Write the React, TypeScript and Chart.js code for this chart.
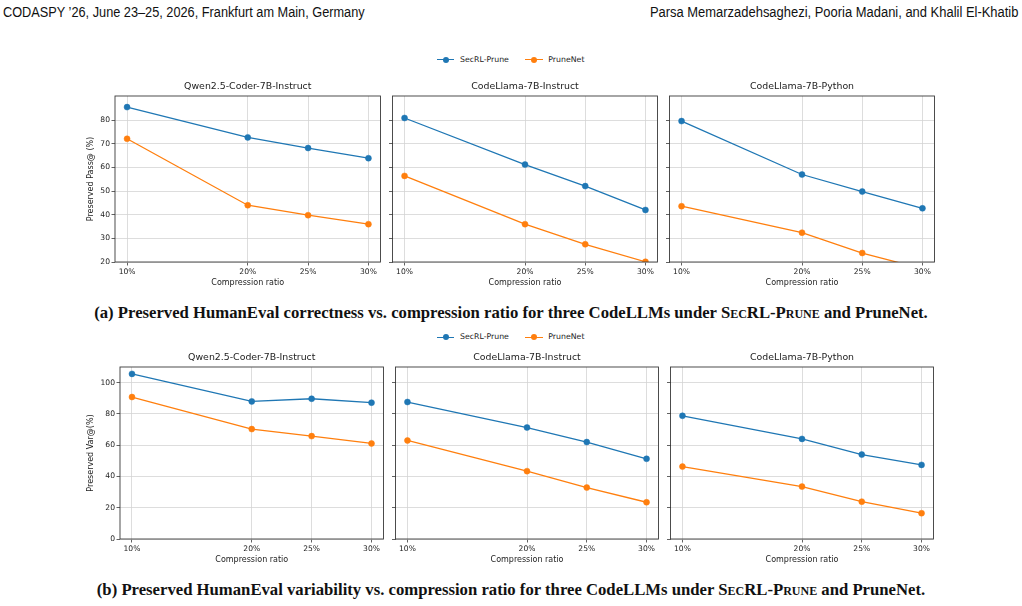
import React, { useEffect, useRef } from 'react';
import { Chart, registerables } from 'chart.js';

Chart.register(...registerables);

// ---------------- data ----------------
const X_VALUES = [10, 20, 25, 30];
const X_TICKS = [10, 20, 25, 30];
const PASS_Y_TICKS = [20, 30, 40, 50, 60, 70, 80];
const VAR_Y_TICKS = [0, 20, 40, 60, 80, 100];
const MODELS = ['Qwen2.5-Coder-7B-Instruct', 'CodeLlama-7B-Instruct', 'CodeLlama-7B-Python'];
const SERIES_NAMES = ['SecRL-Prune', 'PruneNet'];
const SERIES_COLORS = ['#1f77b4', '#ff7f0e'];

const PASS_QWEN_SECRL = [85.5, 72.7, 68.2, 63.9];
const PASS_QWEN_PRUNENET = [72.1, 44.0, 39.8, 36.0];
const PASS_CLI_SECRL = [80.9, 61.2, 52.1, 42.0];
const PASS_CLI_PRUNENET = [56.4, 36.0, 27.5, 20.1];
const PASS_CLP_SECRL = [79.6, 57.0, 49.8, 42.7];
const PASS_CLP_PRUNENET = [43.6, 32.4, 23.8, 17.1];

const VAR_QWEN_SECRL = [105.6, 88.0, 89.7, 87.2];
const VAR_QWEN_PRUNENET = [90.8, 70.3, 65.8, 61.1];
const VAR_CLI_SECRL = [87.6, 71.3, 62.0, 51.3];
const VAR_CLI_PRUNENET = [63.0, 43.4, 32.9, 23.5];
const VAR_CLP_SECRL = [78.8, 64.0, 54.0, 47.4];
const VAR_CLP_PRUNENET = [46.3, 33.5, 23.9, 16.5];

const HEADER_LEFT = 'CODASPY \u201926, June 23\u201325, 2026, Frankfurt am Main, Germany';
const HEADER_RIGHT = 'Parsa Memarzadehsaghezi, Pooria Madani, and Khalil El-Khatib';

// ---------------- styling ----------------
const FONT = "'DejaVu Sans', sans-serif";
const TEXT = '#222222';
const GRID = '#d4d4d4';
const SPINE = '#3a3a3a';
const TITLE_H = 17;
const X_H = 28;
const RIGHT_PAD = 4;

const framePlugin = {
  id: 'frame',
  afterDraw(chart: any) {
    const { ctx, chartArea } = chart;
    const { left, top, right, bottom } = chartArea;
    ctx.save();
    ctx.strokeStyle = SPINE;
    ctx.lineWidth = 0.9;
    ctx.strokeRect(left, top, right - left, bottom - top);
    ctx.restore();
  },
};

type PanelProps = {
  left: number;
  top: number;
  plotW: number;
  plotH: number;
  yAxisW: number;
  title: string;
  showYLabels: boolean;
  yTitle?: string;
  yMin: number;
  yMax: number;
  yTicks: number[];
  secrl: number[];
  prunenet: number[];
};

function Panel(p: PanelProps) {
  const ref = useRef<HTMLCanvasElement>(null);
  const width = p.yAxisW + p.plotW + RIGHT_PAD;
  const height = TITLE_H + p.plotH + X_H;

  useEffect(() => {
    const series = [p.secrl, p.prunenet];
    const chart = new Chart(ref.current as HTMLCanvasElement, {
      type: 'line',
      data: {
        datasets: series.map((vals, si) => ({
          label: SERIES_NAMES[si],
          data: X_VALUES.map((x, i) => ({ x, y: vals[i] })),
          borderColor: SERIES_COLORS[si],
          backgroundColor: SERIES_COLORS[si],
          pointBackgroundColor: SERIES_COLORS[si],
          pointBorderColor: SERIES_COLORS[si],
          pointRadius: 3,
          pointBorderWidth: 0.5,
          borderWidth: 1.3,
          tension: 0,
          clip: 0,
        })),
      },
      options: {
        animation: false,
        responsive: false,
        layout: { padding: { left: 0, right: RIGHT_PAD, top: 0, bottom: 0 } },
        plugins: {
          legend: { display: false },
          tooltip: { enabled: false },
          title: {
            display: true,
            text: p.title,
            fullSize: false,
            color: TEXT,
            font: { family: FONT, size: 9.4, weight: 'normal', lineHeight: 1.2 },
            padding: { top: TITLE_H - 11.28 - 3.5, bottom: 3.5 },
          },
        },
        scales: {
          x: {
            type: 'linear',
            min: 9,
            max: 31,
            bounds: 'data',
            afterBuildTicks: (s: any) => {
              s.ticks = X_TICKS.map((v) => ({ value: v }));
            },
            afterFit: (s: any) => {
              s.height = X_H;
            },
            ticks: {
              callback: (v: any) => `${v}%`,
              font: { family: FONT, size: 7.6, lineHeight: 1.2 },
              color: TEXT,
              padding: 2,
              maxRotation: 0,
              autoSkip: false,
            },
            grid: { color: GRID, lineWidth: 0.8, tickColor: SPINE, tickLength: 3.5, tickWidth: 0.8, drawTicks: true },
            border: { display: false },
            title: {
              display: true,
              text: 'Compression ratio',
              color: TEXT,
              font: { family: FONT, size: 8, lineHeight: 1.2 },
              padding: { top: 0, bottom: 2.2 },
            },
          },
          y: {
            type: 'linear',
            min: p.yMin,
            max: p.yMax,
            bounds: 'data',
            afterBuildTicks: (s: any) => {
              s.ticks = p.yTicks.map((v) => ({ value: v }));
            },
            afterFit: (s: any) => {
              s.width = p.yAxisW;
            },
            ticks: {
              callback: (v: any) => (p.showYLabels ? String(v) : ''),
              font: { family: FONT, size: 7.6, lineHeight: 1.2 },
              color: TEXT,
              padding: 1.5,
              autoSkip: false,
            },
            grid: { color: GRID, lineWidth: 0.8, tickColor: SPINE, tickLength: 3.5, tickWidth: 0.8, drawTicks: true },
            border: { display: false },
            title: {
              display: !!p.yTitle,
              text: p.yTitle || '',
              color: TEXT,
              font: { family: FONT, size: 8, lineHeight: 1.2 },
              padding: { top: 3.2, bottom: 0 },
            },
          },
        },
      } as any,
      plugins: [framePlugin],
    });
    return () => chart.destroy();
  }, []);

  return (
    <canvas
      ref={ref}
      width={width}
      height={height}
      style={{
        position: 'absolute',
        left: p.left - p.yAxisW,
        top: p.top - TITLE_H,
        width,
        height,
      }}
    />
  );
}

function Legend({ centerY }: { centerY: number }) {
  const items = [
    { x: 436.7, textX: 460 },
    { x: 525.3, textX: 548.3 },
  ];
  return (
    <>
      {items.map((it, i) => (
        <React.Fragment key={i}>
          <div
            style={{
              position: 'absolute',
              left: it.x,
              top: centerY - 0.7,
              width: 17.6,
              height: 1.4,
              background: SERIES_COLORS[i],
            }}
          />
          <div
            style={{
              position: 'absolute',
              left: it.x + 8.8 - 3,
              top: centerY - 3,
              width: 6,
              height: 6,
              borderRadius: 3,
              background: SERIES_COLORS[i],
            }}
          />
          <div
            style={{
              position: 'absolute',
              left: it.textX,
              top: centerY - 6,
              height: 12,
              lineHeight: '12px',
              fontFamily: FONT,
              fontSize: 7.8,
              color: TEXT,
              whiteSpace: 'nowrap',
            }}
          >
            {SERIES_NAMES[i]}
          </div>
        </React.Fragment>
      ))}
    </>
  );
}

function Caption({ centerY, label, body }: { centerY: number; label: string; body: string }) {
  return (
    <div
      style={{
        position: 'absolute',
        left: 0,
        width: 1022,
        top: centerY - 11,
        height: 22,
        lineHeight: '22px',
        textAlign: 'center',
        fontFamily: "'Liberation Serif', serif",
        fontWeight: 'bold',
        fontSize: 16.7,
        color: '#111',
        whiteSpace: 'nowrap',
      }}
    >
      {label} {body}{' '}
      <span style={{ fontVariant: 'small-caps' }}>SecRL-Prune</span> and PruneNet.
    </div>
  );
}

const headerStyle: React.CSSProperties = {
  position: 'absolute',
  top: 4,
  lineHeight: '16px',
  fontFamily: "'Liberation Sans', sans-serif",
  fontSize: 14,
  color: '#111',
  whiteSpace: 'nowrap',
};

export default function App() {
  const topL = [115, 392, 669];
  const botL = [120, 395, 670];
  const passS = [PASS_QWEN_SECRL, PASS_CLI_SECRL, PASS_CLP_SECRL];
  const passP = [PASS_QWEN_PRUNENET, PASS_CLI_PRUNENET, PASS_CLP_PRUNENET];
  const varS = [VAR_QWEN_SECRL, VAR_CLI_SECRL, VAR_CLP_SECRL];
  const varP = [VAR_QWEN_PRUNENET, VAR_CLI_PRUNENET, VAR_CLP_PRUNENET];

  return (
    <div
      style={{
        position: 'absolute',
        left: 0,
        top: 0,
        width: 1022,
        height: 606,
        background: '#ffffff',
        overflow: 'hidden',
      }}
    >
      <div style={{ ...headerStyle, left: 3, transform: 'scaleX(0.91)', transformOrigin: 'left center' }}>
        {HEADER_LEFT}
      </div>
      <div style={{ ...headerStyle, right: 4, transform: 'scaleX(0.925)', transformOrigin: 'right center' }}>
        {HEADER_RIGHT}
      </div>

      <Legend centerY={59.7} />
      {MODELS.map((m, i) => (
        <Panel
          key={`t${i}`}
          left={topL[i]}
          top={96}
          plotW={266}
          plotH={166}
          yAxisW={i === 0 ? 32 : 4}
          title={m}
          showYLabels={i === 0}
          yTitle={i === 0 ? 'Preserved Pass@ (%)' : undefined}
          yMin={20}
          yMax={90.2}
          yTicks={PASS_Y_TICKS}
          secrl={passS[i]}
          prunenet={passP[i]}
        />
      ))}
      <Caption
        centerY={313}
        label="(a)"
        body="Preserved HumanEval correctness vs. compression ratio for three CodeLLMs under"
      />

      <Legend centerY={337.3} />
      {MODELS.map((m, i) => (
        <Panel
          key={`b${i}`}
          left={botL[i]}
          top={367}
          plotW={264}
          plotH={172}
          yAxisW={i === 0 ? 37 : 4}
          title={m}
          showYLabels={i === 0}
          yTitle={i === 0 ? 'Preserved Var@(%)' : undefined}
          yMin={0}
          yMax={110}
          yTicks={VAR_Y_TICKS}
          secrl={varS[i]}
          prunenet={varP[i]}
        />
      ))}
      <Caption
        centerY={590}
        label="(b)"
        body="Preserved HumanEval variability vs. compression ratio for three CodeLLMs under"
      />
    </div>
  );
}
